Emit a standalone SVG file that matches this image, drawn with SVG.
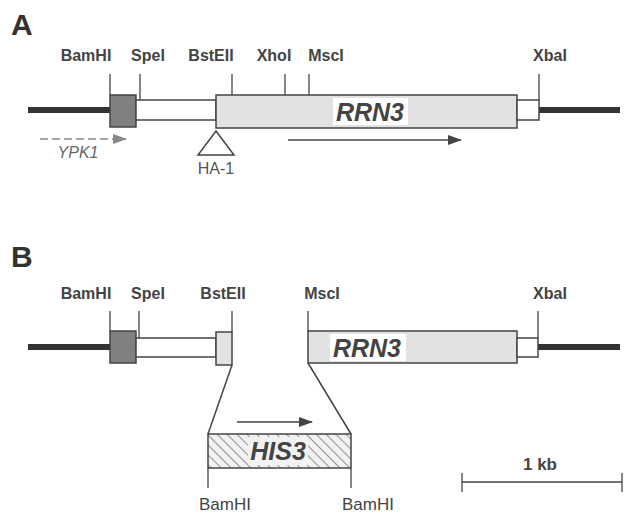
<svg xmlns="http://www.w3.org/2000/svg" width="631" height="515" viewBox="0 0 631 515">
<defs>
<pattern id="hatch" patternUnits="userSpaceOnUse" width="7" height="7" patternTransform="rotate(-45)">
<rect width="7" height="7" fill="#f2f2f2"/>
<line x1="0" y1="0" x2="0" y2="7" stroke="#555" stroke-width="1.2"/>
</pattern>
<marker id="ah" markerWidth="14" markerHeight="10" refX="13" refY="5" orient="auto" markerUnits="userSpaceOnUse">
<path d="M0,0 L14,5 L0,10 Z" fill="#444"/>
</marker>
<marker id="ahg" markerWidth="14" markerHeight="10" refX="13" refY="5" orient="auto" markerUnits="userSpaceOnUse">
<path d="M0,0 L14,5 L0,10 Z" fill="#888"/>
</marker>
</defs>
<style>
.panel{font-family:"Liberation Sans",Arial,sans-serif;font-weight:bold;font-size:30px;fill:#333}
.site{font-family:"Liberation Sans",Arial,sans-serif;font-weight:bold;font-size:16px;fill:#444;text-anchor:middle}
.site2{font-family:"Liberation Sans",Arial,sans-serif;font-size:17px;fill:#444;text-anchor:middle}
.gene{font-family:"Liberation Sans",Arial,sans-serif;font-weight:bold;font-style:italic;font-size:25px;fill:#444;text-anchor:middle}
.tick{stroke:#444;stroke-width:1.3;fill:none}
.thick{stroke:#333;stroke-width:6;fill:none}
.dark{fill:#808080;stroke:#444;stroke-width:1.5}
.light{fill:#e2e2e2;stroke:#444;stroke-width:1.5}
.white{fill:#fff;stroke:#444;stroke-width:1.5}
.arrow{stroke:#444;stroke-width:1.5;fill:none}
</style>

<text class="panel" x="11" y="35">A</text>
<text class="panel" x="11" y="267">B</text>

<g id="panelA">
<g id="A-labels">
<text class="site" x="86" y="61">BamHI</text>
<text class="site" x="148" y="61">SpeI</text>
<text class="site" x="211" y="61">BstEII</text>
<text class="site" x="274" y="61">XhoI</text>
<text class="site" x="326" y="61">MscI</text>
<text class="site" x="550" y="61">XbaI</text>
</g>
<g id="A-ticks">
<line class="tick" x1="110" y1="74" x2="110" y2="95"/>
<line class="tick" x1="140" y1="74" x2="140" y2="100"/>
<line class="tick" x1="232" y1="74" x2="232" y2="95"/>
<line class="tick" x1="285" y1="74" x2="285" y2="95"/>
<line class="tick" x1="309" y1="74" x2="309" y2="95"/>
<line class="tick" x1="539" y1="74" x2="539" y2="100"/>
</g>
<g id="A-flankL"><line class="thick" x1="28" y1="110" x2="110" y2="110"/></g>
<g id="A-flankR"><line class="thick" x1="539" y1="110" x2="620" y2="110"/></g>
<g id="A-dark"><rect class="dark" x="110" y="95" width="26" height="32"/></g>
<g id="A-white1"><rect class="white" x="136" y="100" width="80" height="20"/></g>
<g id="A-rrn3">
<rect class="light" x="216" y="95" width="301" height="33"/>
<rect x="333" y="98" width="75" height="27" fill="#fff"/>
<text class="gene" x="370" y="121">RRN3</text>
</g>
<g id="A-white2"><rect class="white" x="517" y="100" width="22" height="20"/></g>
<g id="A-HA1">
<path d="M216,131 L234,155 L198,155 Z" fill="#fff" stroke="#444" stroke-width="1.5"/>
<text x="216" y="174" font-family="'Liberation Sans',Arial,sans-serif" font-size="16" fill="#555" text-anchor="middle">HA-1</text>
</g>
<g id="A-YPK1">
<text x="78" y="158" font-family="'Liberation Sans',Arial,sans-serif" font-style="italic" font-size="16" fill="#666" text-anchor="middle">YPK1</text>
</g>
</g>

<g id="panelB">
<g id="B-labels">
<text class="site" x="86" y="299">BamHI</text>
<text class="site" x="148" y="299">SpeI</text>
<text class="site" x="223" y="299">BstEII</text>
<text class="site" x="322" y="299">MscI</text>
<text class="site" x="550" y="299">XbaI</text>
</g>
<g id="B-ticks">
<line class="tick" x1="110" y1="311" x2="110" y2="331"/>
<line class="tick" x1="139" y1="311" x2="139" y2="338"/>
<line class="tick" x1="232" y1="311" x2="232" y2="332"/>
<line class="tick" x1="308" y1="311" x2="308" y2="331"/>
<line class="tick" x1="538" y1="311" x2="538" y2="338"/>
</g>
<g id="B-flankL"><line class="thick" x1="28" y1="347" x2="110" y2="347"/></g>
<g id="B-flankR"><line class="thick" x1="538" y1="347" x2="620" y2="347"/></g>
<g id="B-dark"><rect class="dark" x="110" y="331" width="26" height="32"/></g>
<g id="B-white1"><rect class="white" x="136" y="338" width="80" height="19"/></g>
<g id="B-rrn3stub"><rect class="light" x="216" y="332" width="16" height="33"/></g>
<g id="B-rrn3">
<rect class="light" x="308" y="331" width="209" height="32"/>
<rect x="330" y="334" width="76" height="27" fill="#fff"/>
<text class="gene" x="367" y="357">RRN3</text>
</g>
<g id="B-white2"><rect class="white" x="517" y="338" width="21" height="19"/></g>
<g id="B-his3">
<rect x="208" y="434" width="143" height="34" fill="url(#hatch)" stroke="#444" stroke-width="1.5"/>
<rect x="248" y="437" width="60" height="28" fill="#f2f2f2"/>
<text class="gene" x="278" y="460">HIS3</text>
<line class="tick" x1="208" y1="468" x2="208" y2="488"/>
<line class="tick" x1="351" y1="468" x2="351" y2="488"/>
<text class="site2" x="225" y="510">BamHI</text>
<text class="site2" x="368" y="510">BamHI</text>
</g>
<g id="scale">
<line class="tick" x1="462" y1="482" x2="622" y2="482"/>
<line class="tick" x1="462" y1="473" x2="462" y2="492"/>
<line class="tick" x1="622" y1="473" x2="622" y2="492"/>
<text x="540" y="470" font-family="'Liberation Sans',Arial,sans-serif" font-weight="bold" font-size="17" fill="#444" text-anchor="middle">1 kb</text>
</g>
</g>

<g id="connectors">
<line class="arrow" x1="288" y1="140" x2="461" y2="140" marker-end="url(#ah)"/>
<line x1="40" y1="139" x2="126" y2="139" stroke="#888" stroke-width="1.3" stroke-dasharray="8,4" marker-end="url(#ahg)"/>
<line class="arrow" x1="232" y1="365" x2="208" y2="434"/>
<line class="arrow" x1="308" y1="363" x2="351" y2="434"/>
<line class="arrow" x1="237" y1="422" x2="312" y2="422" marker-end="url(#ah)"/>
</g>
</svg>
